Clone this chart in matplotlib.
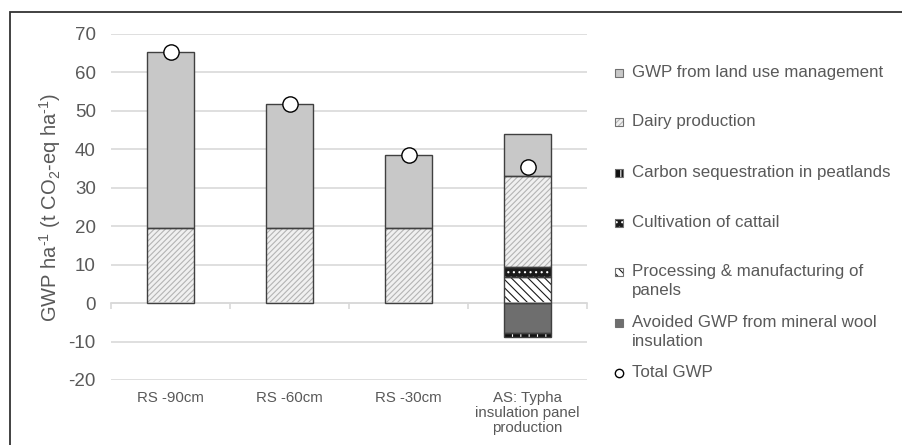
import matplotlib
matplotlib.use("Agg")
import matplotlib.pyplot as plt
import numpy as np
from matplotlib.patches import Rectangle
from matplotlib.lines import Line2D

plt.rcParams['font.family'] = ['Liberation Sans', 'DejaVu Sans']
plt.rcParams['mathtext.fontset'] = 'custom'
plt.rcParams['mathtext.rm'] = 'Liberation Sans'
plt.rcParams['mathtext.it'] = 'Liberation Sans'
plt.rcParams['axes.unicode_minus'] = False
plt.rcParams['hatch.linewidth'] = 0.8

categories = ["RS -90cm", "RS -60cm", "RS -30cm", "AS: Typha\ninsulation panel\nproduction"]
land_use = [45.9, 32.4, 19.1, 11.0]
dairy = [19.5, 19.5, 19.5, 23.6]
carbon_seq = [0.0, 0.0, 0.0, -1.0]
cattail = [0.0, 0.0, 0.0, 2.7]
processing = [0.0, 0.0, 0.0, 6.8]
avoided = [0.0, 0.0, 0.0, -7.8]
total = [65.4, 51.9, 38.6, 35.5]

labels = ["GWP from land use management", "Dairy production",
          "Carbon sequestration in peatlands", "Cultivation of cattail",
          "Processing & manufacturing of\npanels",
          "Avoided GWP from mineral wool\ninsulation", "Total GWP"]

text_col = "#595959"
edge_col = "#404040"
grid_col = "#d9d9d9"

# style per series: facecolor, hatch, hatch colour
styles = {
    "land": ("#c8c8c8", None, None),
    "dairy": ("#f0f0f0", "//////", "#b4b4b4"),
    "carbon": ("#111111", "||", "#ffffff"),
    "cattail": ("#1a1a1a", "...", "#ffffff"),
    "processing": ("#ffffff", "\\\\\\\\", "#1a1a1a"),
    "avoided": ("#6e6e6e", None, None),
}

fig = plt.figure(figsize=(9.03, 4.45), dpi=100)
W, H = 903, 445
ax = fig.add_axes([111 / W, 1 - 380 / H, (587 - 111) / W, (380 - 34) / H])

x = np.arange(len(categories))
width = 0.4


def draw(vals, bottom, key):
    fc, hatch, hc = styles[key]
    if hatch:
        ax.bar(x, vals, width, bottom=bottom, color=fc, hatch=hatch,
               edgecolor=hc, linewidth=0, zorder=2)
    else:
        ax.bar(x, vals, width, bottom=bottom, color=fc, linewidth=0, zorder=2)
    ax.bar(x, vals, width, bottom=bottom, fill=False, edgecolor=edge_col,
           linewidth=1.0, zorder=3)


# positive stack
pos_bottom = np.zeros(len(x))
for vals, key in [(processing, "processing"), (cattail, "cattail"),
                  (dairy, "dairy"), (land_use, "land")]:
    v = np.array(vals)
    draw(np.where(v != 0, v, np.nan), pos_bottom, key)
    pos_bottom = pos_bottom + v

# negative stack
neg_bottom = np.zeros(len(x))
for vals, key in [(avoided, "avoided"), (carbon_seq, "carbon")]:
    v = np.array(vals)
    draw(np.where(v != 0, v, np.nan), neg_bottom, key)
    neg_bottom = neg_bottom + v

ax.plot(x, total, linestyle="none", marker="o", markersize=11,
        markerfacecolor="white", markeredgecolor="black", markeredgewidth=1.0,
        zorder=5)

ax.set_ylim(-20, 70)
ax.set_xlim(-0.5, len(x) - 0.5)
ax.set_yticks(np.arange(-20, 71, 10))
ax.yaxis.grid(True, color=grid_col, linewidth=1.2, zorder=0)
ax.set_axisbelow(True)
ax.tick_params(axis="y", length=0, pad=11, labelsize=13.5, labelcolor=text_col)
for s in ["top", "right", "left"]:
    ax.spines[s].set_visible(False)
ax.spines["bottom"].set_position(("data", 0))
ax.spines["bottom"].set_color(grid_col)
ax.spines["bottom"].set_linewidth(1.2)
ax.set_xticks(np.arange(-0.5, len(x), 1.0))
ax.tick_params(axis="x", length=4, color=grid_col, width=1.2, labelbottom=False)

sec = ax.secondary_xaxis(0.0)
sec.set_xticks(x, categories)
sec.tick_params(length=0, pad=8, labelsize=10.8, labelcolor=text_col)
sec.spines["bottom"].set_visible(False)
for t in sec.get_xticklabels():
    t.set_linespacing(1.1)

ax.set_ylabel("GWP ha$^{\\text{-}1}$ (t CO$_2$-eq ha$^{\\text{-}1}$)", fontsize=14.5,
              color=text_col)
ax.yaxis.set_label_coords(-48 / (587 - 111), 0.5)

# legend drawn at fixed slots
keys = ["land", "dairy", "carbon", "cattail", "processing", "avoided"]
slot_y = [73, 122, 173, 223, 272, 323, 373]
for i, lab in enumerate(labels):
    yc = 1 - slot_y[i] / H
    if i < len(keys):
        fc, hatch, hc = styles[keys[i]]
        sq = Rectangle((615 / W, yc - 4 / H), 8 / W, 8 / H, transform=fig.transFigure,
                       facecolor=fc, hatch=hatch, edgecolor=hc if hatch else fc,
                       linewidth=0)
        fig.add_artist(sq)
        fig.add_artist(Rectangle((615 / W, yc - 4 / H), 8 / W, 8 / H,
                                 transform=fig.transFigure, fill=False,
                                 edgecolor="#707070", linewidth=0.8))
    else:
        fig.add_artist(Line2D([619 / W], [yc], transform=fig.transFigure,
                              marker="o", markersize=6, markerfacecolor="white",
                              markeredgecolor="black", markeredgewidth=1.0))
    fig.text(632 / W, yc + 8 / H, lab, ha="left", va="top", fontsize=12.2,
             color=text_col, linespacing=1.3)

# outer frame (right and bottom edges fall outside the image)
fig.add_artist(Rectangle((10 / W, -0.2), 1.2, 1.2 - 12 / H,
                         transform=fig.transFigure, fill=False,
                         edgecolor="#333333", linewidth=1.3))

fig.savefig("out.png", dpi=100)
